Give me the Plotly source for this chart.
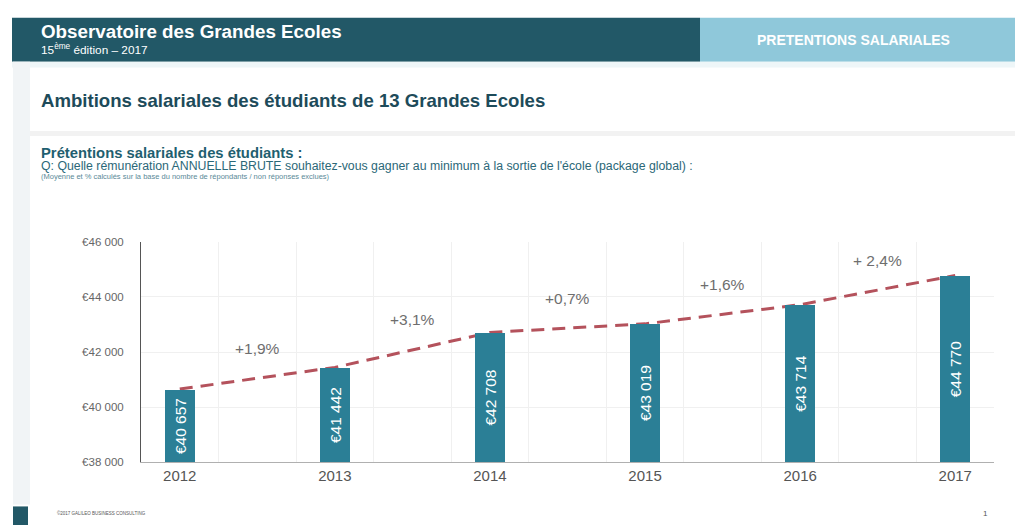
import plotly.graph_objects as go

# ---- data ----
years = ["2012", "2013", "2014", "2015", "2016", "2017"]
salaries = [40657, 41442, 42708, 43019, 43714, 44770]
growth_labels = ["+1,9%", "+3,1%", "+0,7%", "+1,6%", "+ 2,4%"]
y_ticks = [38000, 40000, 42000, 44000, 46000]
y_tick_labels = ["€38 000", "€40 000", "€42 000", "€44 000", "€46 000"]

W, H = 1015, 531
FONT = "Liberation Sans, Arial, sans-serif"

idx = list(range(len(years)))
bar_labels = ["€" + f"{v:,}".replace(",", " ") for v in salaries]
axis_base = y_ticks[0]
bar_heights = [v - axis_base for v in salaries]

x_dom = [141 / W, 994 / W]
y_dom = [1 - 467 / H, 1 - 241 / H]
x_rng = [-0.25, len(years) - 0.75]
y_rng = [y_ticks[0], y_ticks[-1]]

fig = go.Figure()

# dashed trend line (underneath the bars)
fig.add_trace(go.Scatter(
    x=idx, y=salaries, mode="lines",
    line=dict(color="#b4525c", width=3, dash="13px,8px"),
    hoverinfo="skip", showlegend=False, xaxis="x", yaxis="y"))

# bars (on an overlaying subplot so they sit above the line)
fig.add_trace(go.Bar(
    x=idx, y=bar_heights, base=axis_base, width=0.19,
    marker=dict(color="#2b7f96", line=dict(width=0)),
    text=bar_labels, textposition="inside", insidetextanchor="middle",
    textangle=-90, textfont=dict(color="white", size=15.5, family=FONT),
    showlegend=False, xaxis="x2", yaxis="y2"))

annotations = []
for i, lab in enumerate(growth_labels):
    mid = (salaries[i] + salaries[i + 1]) / 2
    annotations.append(dict(
        x=i + 0.5, y=mid, xref="x", yref="y", text=lab, showarrow=False,
        yshift=30, font=dict(size=15.5, color="#6e6e6e", family=FONT)))

def paper_text(x, y, text, size, color, bold=False, xanchor="left"):
    t = f"<b>{text}</b>" if bold else text
    return dict(x=x / W, y=1 - y / H, xref="paper", yref="paper", text=t,
                showarrow=False, xanchor=xanchor, yanchor="middle",
                font=dict(size=size, color=color, family=FONT))

annotations += [
    paper_text(39, 26, "Observatoire des Grandes Ecoles", 18.8, "white", bold=True),
    paper_text(39, 44, "15<sup>ème</sup> édition – 2017", 11.8, "white"),
    paper_text(853, 35, "PRETENTIONS SALARIALES", 14, "white", bold=True, xanchor="center"),
    paper_text(39, 97, "Ambitions salariales des étudiants de 13 Grandes Ecoles", 18.6, "#1d4b5a", bold=True),
    paper_text(39, 150, "Prétentions salariales des étudiants :", 14.8, "#1f5f70", bold=True),
    paper_text(39, 164, "Q: Quelle rémunération ANNUELLE BRUTE souhaitez-vous gagner au minimum à la sortie de l'école (package global) :", 12.3, "#2b6878"),
    paper_text(39, 174, "(Moyenne et % calculés sur la base du nombre de répondants / non réponses exclues)", 7.5, "#5a8a98"),
    paper_text(55, 519, "©2017 GALILEO BUSINESS CONSULTING", 4.5, "#555555"),
    paper_text(985, 519, "1", 8, "#555555", xanchor="center"),
]

shapes = [
    dict(type="rect", xref="paper", yref="paper", x0=12 / W, x1=700 / W, y0=1 - 57 / H, y1=1 - 12 / H,
         fillcolor="#225867", line=dict(width=0), layer="below"),
    dict(type="rect", xref="paper", yref="paper", x0=700 / W, x1=1, y0=1 - 57 / H, y1=1 - 12 / H,
         fillcolor="#8fc8da", line=dict(width=0), layer="below"),
    dict(type="rect", xref="paper", yref="paper", x0=12 / W, x1=1, y0=1 - 63 / H, y1=1 - 57 / H,
         fillcolor="#eef6f8", line=dict(width=0), layer="below"),
    dict(type="rect", xref="paper", yref="paper", x0=13 / W, x1=30 / W, y0=1 - 510 / H, y1=1 - 57 / H,
         fillcolor="#f1f4f6", line=dict(width=0), layer="below"),
    dict(type="rect", xref="paper", yref="paper", x0=30 / W, x1=1, y0=1 - 133 / H, y1=1 - 128 / H,
         fillcolor="#f2f2f2", line=dict(width=0), layer="below"),
    dict(type="rect", xref="paper", yref="paper", x0=13 / W, x1=28 / W, y0=0, y1=1 - 512 / H,
         fillcolor="#225867", line=dict(width=0), layer="below"),
]

fig.update_layout(
    width=W, height=H, margin=dict(l=0, r=0, t=0, b=0),
    paper_bgcolor="white", plot_bgcolor="white",
    font=dict(family=FONT),
    annotations=annotations, shapes=shapes,
    bargap=0,
    xaxis=dict(domain=x_dom, range=x_rng, tickvals=idx, ticktext=years,
               showgrid=False, zeroline=False, showline=True, linecolor="#b0b0b0", linewidth=1,
               ticks="", tickfont=dict(size=15, color="#555555", family=FONT),
               minor=dict(tick0=0.25, dtick=0.5, showgrid=True, gridcolor="#f0f0f0", gridwidth=1, ticks=""),
               fixedrange=True),
    yaxis=dict(domain=y_dom, range=y_rng, tickvals=y_ticks, ticktext=y_tick_labels,
               showgrid=True, gridcolor="#f0f0f0", zeroline=False, showline=True,
               linecolor="#555555", linewidth=1, ticks="", ticklabelstandoff=14,
               tickfont=dict(size=11.5, color="#666666", family=FONT), fixedrange=True),
    xaxis2=dict(overlaying="x", domain=x_dom, range=x_rng, visible=False, fixedrange=True),
    yaxis2=dict(overlaying="y", domain=y_dom, range=y_rng, visible=False, fixedrange=True),
)

fig.write_html("out.html", config={"displayModeBar": False},
               post_script="document.body.style.margin='0';document.body.style.overflow='hidden';")
